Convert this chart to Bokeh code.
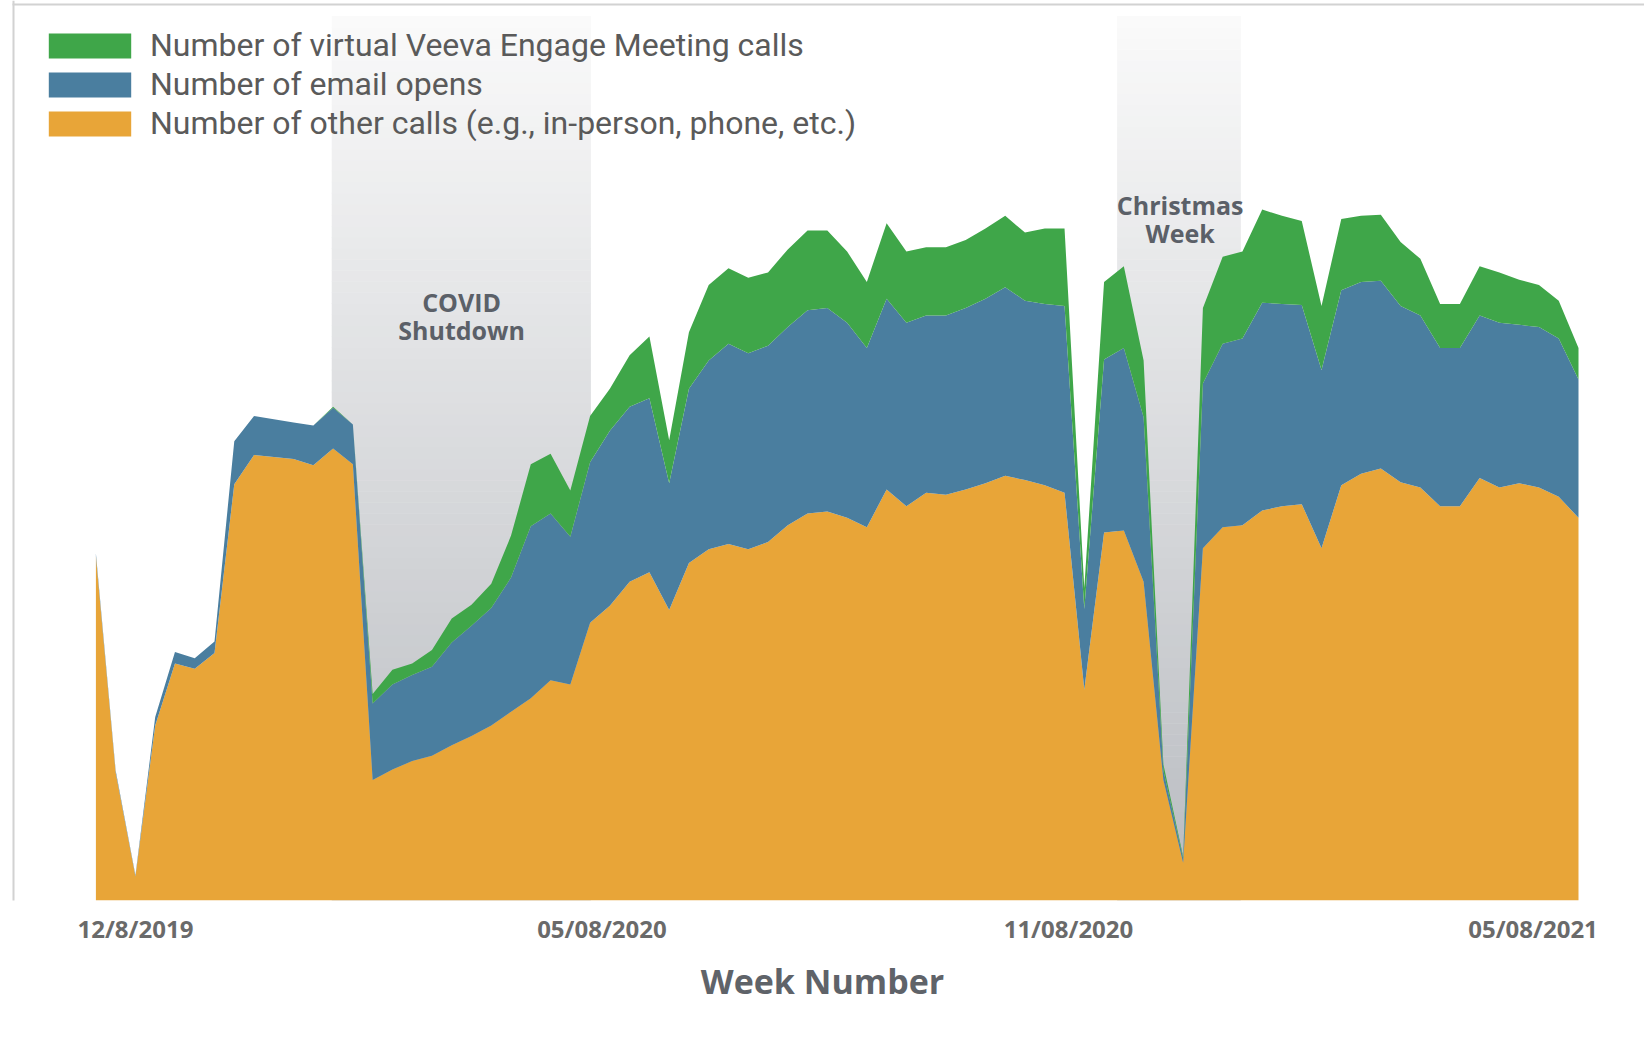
import numpy as np
from bokeh.plotting import figure
from bokeh.models import (ColumnDataSource, Range1d, Legend, LegendItem, FixedTicker,
                          BoxAnnotation)
from bokeh.core.properties import value
from bokeh.embed import file_html
from bokeh.resources import INLINE

# ---------------- data (weekly, 12/8/2019 .. 05/08/2021) ----------------
weeks = list(range(76))
other_calls = [328, 122, 23, 167, 226, 221, 236, 397, 425, 423, 421, 415, 431, 416,
               115, 125, 133, 138, 148, 157, 167, 180, 193, 210, 206, 265, 281, 304,
               313, 277, 322, 335, 340, 335, 342, 358, 369, 371, 365, 356, 392, 376,
               389, 387, 392, 398, 405, 401, 396, 389, 201, 351, 353, 304, 115, 36,
               336, 356, 358, 372, 376, 378, 336, 396, 407, 412, 399, 394, 376, 376,
               403, 394, 398, 394, 385, 365]
email_opens = [3, 2, 1, 8, 11, 10, 11, 41, 37, 36, 35, 38, 39, 38,
               73, 81, 82, 85, 98, 105, 112, 128, 164, 159, 141, 153, 167, 167,
               166, 121, 166, 180, 191, 187, 187, 189, 194, 194, 186, 171, 182, 175,
               169, 171, 173, 176, 180, 171, 173, 178, 77, 165, 174, 157, 9, 4,
               157, 175, 178, 198, 193, 190, 170, 186, 183, 179, 168, 164, 151, 151,
               155, 157, 151, 153, 151, 132]
virtual_calls = [0, 0, 0, 0, 0, 0, 0, 0, 0, 0, 0, 0, 1, 0,
                 9, 14, 11, 16, 23, 20, 23, 40, 59, 57, 44, 44, 40, 49,
                 59, 41, 54, 72, 72, 72, 70, 74, 76, 74, 68, 63, 72, 68,
                 65, 65, 65, 67, 68, 65, 72, 74, 20, 74, 78, 54, 6, 2,
                 72, 83, 83, 89, 84, 80, 61, 68, 63, 63, 61, 54, 42, 42,
                 47, 48, 43, 40, 36, 30]

series_labels = ["Number of virtual Veeva Engage Meeting calls",
                 "Number of email opens",
                 "Number of other calls (e.g., in-person, phone, etc.)"]
tick_weeks = [2.0, 25.6, 49.2, 72.7]
tick_labels = ["12/8/2019", "05/08/2020", "11/08/2020", "05/08/2021"]

# shaded periods (week ranges)
covid_period = (11.93, 25.04)
christmas_period = (51.66, 57.92)
annot_x = [18.5, 18.5, 54.85, 54.85]
annot_y = [571, 544, 663, 637]
annot_text = ["COVID", "Shutdown", "Christmas", "Week"]

# ---------------- figure ----------------
W, H = 1644, 1040
BOTTOM = 140
px_per_week = 1482.6 / 75.0
x0 = -95.4 / px_per_week
x1 = x0 + W / px_per_week
frame_h = H - BOTTOM
y1 = frame_h / 1.0485

p = figure(width=W, height=H, x_range=Range1d(x0, x1), y_range=Range1d(0, y1),
           output_backend="svg", toolbar_location=None, y_axis_location=None,
           min_border_left=0, min_border_right=0, min_border_top=0,
           min_border_bottom=BOTTOM)
p.outline_line_color = None
p.xgrid.visible = False
p.ygrid.visible = False
p.background_fill_color = "white"
p.border_fill_color = "white"

# thin frame lines of the original picture (left and top)
p.add_layout(BoxAnnotation(left=12, right=14, top=frame_h, bottom=-BOTTOM,
                           left_units="screen", right_units="screen",
                           top_units="screen", bottom_units="screen",
                           fill_color="#d2d2d2", fill_alpha=1, line_color=None,
                           level="overlay"))
p.add_layout(BoxAnnotation(left=12, right=W, top=frame_h - 3, bottom=frame_h - 5,
                           left_units="screen", right_units="screen",
                           top_units="screen", bottom_units="screen",
                           fill_color="#d2d2d2", fill_alpha=1, line_color=None,
                           level="overlay"))

# gradient shaded bands (built from thin strips)
n_strips = 80
band_top = 843.0
edges = np.linspace(0, band_top, n_strips + 1)
top_rgb = np.array([250, 250, 250])
bot_rgb = np.array([184, 187, 192])
for (a, b) in [covid_period, christmas_period]:
    lefts, rights, bots, tops, cols = [], [], [], [], []
    for i in range(n_strips):
        frac = (edges[i] + edges[i + 1]) / 2 / band_top
        c = bot_rgb + (top_rgb - bot_rgb) * frac
        lefts.append(a); rights.append(b)
        bots.append(edges[i]); tops.append(edges[i + 1] + 0.5)
        cols.append("#%02x%02x%02x" % tuple(int(round(v)) for v in c))
    p.quad(left=lefts, right=rights, bottom=bots, top=tops, fill_color=cols,
           line_color=None)

src = ColumnDataSource(dict(week=weeks, other=other_calls, email=email_opens,
                            virtual=virtual_calls))
colors = ["#E8A538", "#4A7E9F", "#3FA649"]
rs = p.varea_stack(stackers=["other", "email", "virtual"], x="week",
                   color=colors, source=src)

p.text(x=annot_x, y=annot_y, text=annot_text, text_align="center",
       text_baseline="middle", text_font=value("Open Sans"),
       text_font_style="bold", text_font_size="25px", text_color="#5b6068")

legend = Legend(items=[LegendItem(label=series_labels[0], renderers=[rs[2]]),
                       LegendItem(label=series_labels[1], renderers=[rs[1]]),
                       LegendItem(label=series_labels[2], renderers=[rs[0]])],
                location=(38, 758))
legend.label_text_font = "Roboto"
legend.label_text_font_size = "32px"
legend.label_text_color = "#5a5a5a"
legend.glyph_width = 103
legend.glyph_height = 31
legend.label_height = 31
legend.label_standoff = 9
legend.spacing = 1
legend.padding = 0
legend.margin = 0
legend.border_line_color = None
legend.background_fill_alpha = 0
p.add_layout(legend)

ax = p.xaxis[0]
ax.ticker = FixedTicker(ticks=tick_weeks)
ax.major_label_overrides = {t: l for t, l in zip(tick_weeks, tick_labels)}
ax.axis_line_color = None
ax.major_tick_line_color = None
ax.minor_tick_line_color = None
ax.major_label_standoff = 5
ax.major_label_text_font = "Open Sans"
ax.major_label_text_font_style = "bold"
ax.major_label_text_font_size = "24px"
ax.major_label_text_color = "#6a6a6a"
ax.axis_label = "Week Number"
ax.axis_label_text_font = "Open Sans"
ax.axis_label_text_font_style = "bold"
ax.axis_label_text_font_size = "34px"
ax.axis_label_text_color = "#5f6369"
ax.axis_label_standoff = 10

open("out.html", "w").write(file_html(p, INLINE))
